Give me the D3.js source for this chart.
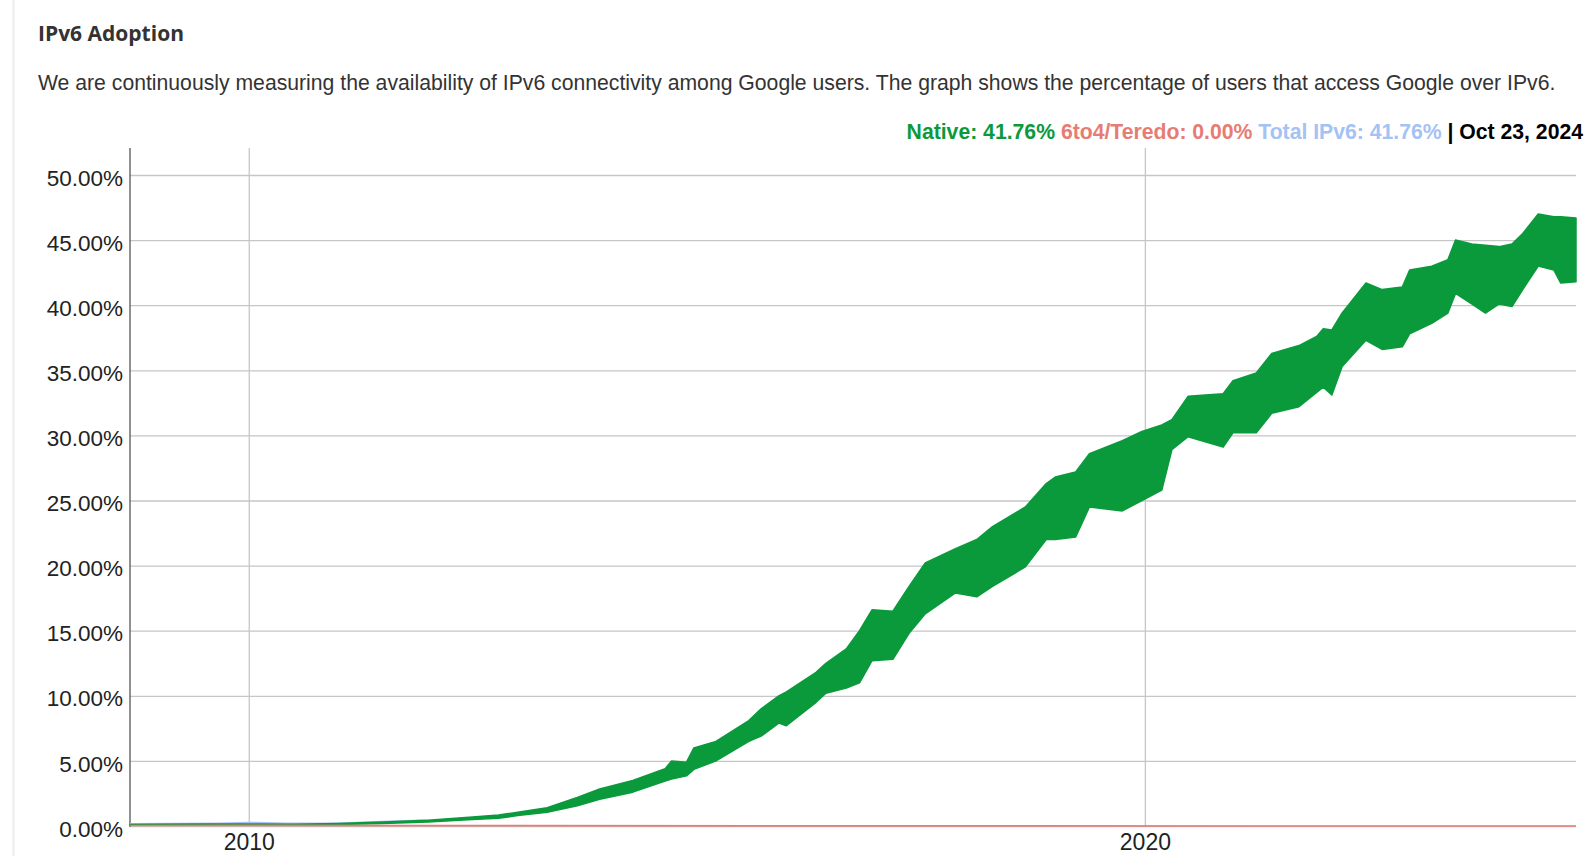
<!DOCTYPE html>
<html>
<head>
<meta charset="utf-8">
<script src="https://cdn.jsdelivr.net/npm/d3@7"></script>
<style>
  body { margin: 0; background: #fff; }
  svg { display: block; }
  .title { font-family: "Open Sans", sans-serif; font-weight: 700; font-size: 21px; fill: #333; }
  .desc { font-family: "Liberation Sans", Arial, sans-serif; font-size: 21.2px; fill: #333; }
  .legend { font-family: "Liberation Sans", Arial, sans-serif; font-weight: 700; font-size: 21.2px; }
  .tick text { font-family: "Liberation Sans", Arial, sans-serif; font-size: 22.5px; fill: #222; }
  .xlab .tick text { font-size: 23px; }
  .grid line { stroke: #c6c6c6; stroke-width: 1.3; }
  .grid path { display: none; }
</style>
</head>
<body>
<svg width="1596" height="856"></svg>
<script>
// **** data ****

// native IPv6 band: daily highs (weekends) and lows (weekdays), in percent
var dates = ["2008-09-04","2009-01-01","2009-07-01","2010-01-01","2010-07-01","2011-01-01",
    "2011-07-01","2012-01-01","2012-07-01","2012-10-15","2013-01-01","2013-05-01",
    "2013-09-01","2013-12-01","2014-04-15","2014-08-25","2014-09-20","2014-11-20",
    "2014-12-20","2015-03-20","2015-08-01","2015-09-20","2015-12-01","2016-01-01",
    "2016-05-01","2016-06-10","2016-09-01","2016-10-25","2016-12-15","2017-03-10",
    "2017-05-15","2017-07-20","2017-11-20","2018-02-15","2018-04-20","2018-09-01",
    "2018-11-25","2019-01-01","2019-03-25","2019-05-20","2019-10-01","2019-12-20",
    "2020-03-10","2020-04-20","2020-06-25","2020-11-15","2020-12-25","2021-03-30",
    "2021-06-01","2021-09-20","2021-12-01","2021-12-28","2022-02-01","2022-03-15",
    "2022-06-20","2022-08-25","2022-11-15","2022-12-15","2023-03-15","2023-05-20",
    "2023-06-20","2023-08-25","2023-10-20","2023-12-15","2024-02-05","2024-03-20",
    "2024-05-22","2024-07-25","2024-08-22","2024-10-23"];
var nativeHigh = [0.12,0.14,0.15,0.16,0.14,0.2,
    0.3,0.45,0.7,0.85,1.05,1.4,
    2.2,2.85,3.5,4.4,5.0,4.9,
    6.0,6.5,8.1,9.0,10.0,10.3,
    11.8,12.5,13.6,15.0,16.6,16.5,
    18.4,20.2,21.3,22.0,23.0,24.5,
    26.3,26.8,27.2,28.6,29.6,30.3,
    30.8,31.2,33.0,33.2,34.2,34.8,
    36.3,36.9,37.6,38.2,38.1,39.4,
    41.7,41.2,41.4,42.7,43.0,43.5,
    45.0,44.7,44.6,44.5,44.7,45.5,
    47.0,46.8,46.8,46.7];
var nativeLow = [0.05,0.06,0.07,0.08,0.08,0.12,
    0.2,0.3,0.5,0.6,0.8,1.05,
    1.55,2.05,2.6,3.45,3.6,3.85,
    4.35,5.0,6.5,6.9,7.9,7.7,
    9.5,10.2,10.6,11.0,12.7,12.8,
    14.8,16.3,17.9,17.6,18.4,19.9,
    22.0,22.0,22.2,24.5,24.2,25.0,
    25.8,28.9,29.9,29.1,30.2,30.2,
    31.7,32.2,33.3,33.7,33.1,35.3,
    37.3,36.6,36.8,37.8,38.6,39.4,
    40.9,40.1,39.4,40.1,39.9,41.2,
    43.0,42.7,41.7,41.8];

// total IPv6 (only visible before native covers it)
var totalDates = ["2008-09-04","2009-03-01","2009-09-01","2010-01-01","2010-06-01","2011-01-01","2011-06-01","2012-01-01"];
var totalValues = [0.15,0.17,0.2,0.25,0.2,0.2,0.3,0.45];

// 6to4/Teredo
var teredoDates = ["2008-09-04","2010-01-01","2012-01-01","2016-01-01","2024-10-23"];
var teredoValues = [0.04,0.05,0.03,0.01,0.0];

var legendItems = [
    {text: "Native: 41.76% ", color: "#0a9a3c"},
    {text: "6to4/Teredo: 0.00% ", color: "#e67c73"},
    {text: "Total IPv6: 41.76% ", color: "#a4c2f4"},
    {text: "| Oct 23, 2024", color: "#000"}
];

var yTicks = [0,5,10,15,20,25,30,35,40,45,50];
var xTicks = ["2010-01-01","2020-01-01"];

// **** scales ****
var parse = d3.timeParse("%Y-%m-%d");

var xScale = d3.scaleTime()
    .domain([parse("2008-09-04"), parse("2024-10-23")]).range([130, 1576]);
var yScale = d3.scaleLinear()
    .domain([0, 50]).range([826, 175]);

var svg = d3.select('svg');

// card border on the left
svg.append('line')
    .attr('x1', 13.5).attr('x2', 13.5).attr('y1', 0).attr('y2', 856)
    .attr('stroke', '#ececec').attr('stroke-width', 2);

svg.append('text').attr('class', 'title')
    .attr('x', 38).attr('y', 41)
    .text('IPv6 Adoption');

svg.append('text').attr('class', 'desc')
    .attr('x', 38).attr('y', 90)
    .text('We are continuously measuring the availability of IPv6 connectivity among Google users. The graph shows the percentage of users that access Google over IPv6.');

var legend = svg.append('text').attr('class', 'legend')
    .attr('x', 1583).attr('y', 139)
    .attr('text-anchor', 'end')
    .style('white-space', 'pre');
legend.selectAll('tspan')
    .data(legendItems)
    .enter()
    .append('tspan')
    .attr('fill', function(d) { return d.color; })
    .text(function(d) { return d.text; });

// gridlines
svg.append('g').attr('class', 'grid')
    .attr('transform', 'translate(130,0)')
    .call(d3.axisLeft(yScale).tickValues(yTicks).tickSize(-1446).tickFormat(''));

svg.append('g').attr('class', 'grid')
    .attr('transform', 'translate(0,826)')
    .call(d3.axisBottom(xScale).tickValues(xTicks.map(parse)).tickSize(-678).tickFormat(''));

// axis line
svg.append('line')
    .attr('x1', 130).attr('x2', 130).attr('y1', 148).attr('y2', 827)
    .attr('stroke', '#555').attr('stroke-width', 1.3);

// tick labels
var yAxis = svg.append('g')
    .attr('transform', 'translate(130,0)')
    .call(d3.axisLeft(yScale).tickValues(yTicks).tickSize(0).tickPadding(7)
        .tickFormat(function(d) { return d3.format('.2f')(d) + '%'; }));
yAxis.select('.domain').remove();
yAxis.selectAll('text').attr('dy', '0.45em');

var xAxis = svg.append('g').attr('class', 'xlab')
    .attr('transform', 'translate(0,826)')
    .call(d3.axisBottom(xScale).tickValues(xTicks.map(parse)).tickSize(0).tickPadding(8)
        .tickFormat(d3.timeFormat('%Y')));
xAxis.select('.domain').remove();

// **** series ****
var total = totalDates.map(function(d, i) { return {date: parse(d), v: totalValues[i]}; });
svg.append('path')
    .datum(total)
    .attr('fill', 'none')
    .attr('stroke', '#a4c2f4')
    .attr('stroke-width', 2)
    .attr('d', d3.line()
        .x(function(d) { return xScale(d.date); })
        .y(function(d) { return yScale(d.v); }));

var band = dates.map(function(d, i) {
    return {date: parse(d), hi: nativeHigh[i], lo: nativeLow[i]};
});
svg.append('path')
    .datum(band)
    .attr('fill', '#0a9a3c')
    .attr('stroke', '#0a9a3c')
    .attr('stroke-width', 1.5)
    .attr('stroke-linejoin', 'round')
    .attr('d', d3.area()
        .x(function(d) { return xScale(d.date); })
        .y0(function(d) { return yScale(d.lo); })
        .y1(function(d) { return yScale(d.hi); }));

var teredo = teredoDates.map(function(d, i) { return {date: parse(d), v: teredoValues[i]}; });
svg.append('path')
    .datum(teredo)
    .attr('fill', 'none')
    .attr('stroke', '#e67c73')
    .attr('stroke-width', 1.6)
    .attr('d', d3.line()
        .x(function(d) { return xScale(d.date); })
        .y(function(d) { return yScale(d.v); }));
</script>
</body>
</html>
